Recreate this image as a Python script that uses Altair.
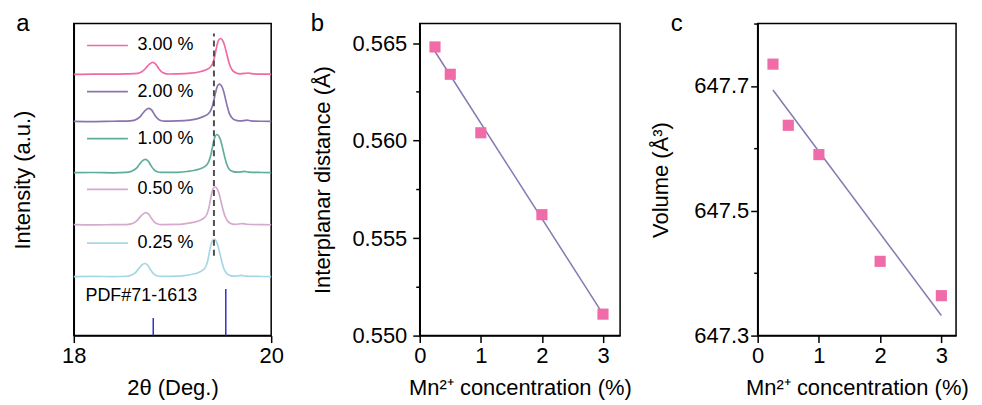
import altair as alt
import pandas as pd

FONT = "Liberation Sans"

# ---------------- panel a : XRD patterns ----------------
series = ["3.00 %", "2.00 %", "1.00 %", "0.50 %", "0.25 %"]
colors = ["#f06aa5", "#8a74b0", "#5fae9b", "#d4aacd", "#a6d7e6"]
offsets = [262.0, 214.7, 163.3, 111.0, 59.0]      # stacking offset of each pattern
legend_y = [291.0, 244.7, 197.5, 146.7, 92.7]

tt_300 = [18.00, 18.20, 18.40, 18.53, 18.65, 18.68, 18.71, 18.74, 18.77, 18.80, 18.83, 18.86, 18.89, 18.92, 18.96,
          19.05, 19.185, 19.265, 19.335, 19.385, 19.405, 19.425, 19.445, 19.465, 19.485, 19.505, 19.525, 19.545,
          19.565, 19.585, 19.61, 19.645, 19.685, 19.735, 19.765, 19.805, 19.90, 20.00]
I_300 = [0.0, 0.3, 0.2, 0.5, 1.1, 2.2, 4.2, 7.6, 10.6, 12.0, 10.3, 6.0, 2.6, 1.0, 0.4,
         0.5, 1.2, 2.4, 4.4, 7.5, 10.5, 17.0, 26.5, 33.8, 36.0, 34.5, 30.0, 22.5,
         14.5, 8.2, 3.8, 1.5, 0.6, 1.0, 1.4, 0.7, 0.3, 0.2]

tt_200 = [18.00, 18.20, 18.40, 18.53, 18.61, 18.64, 18.67, 18.70, 18.73, 18.76, 18.79, 18.82, 18.85, 18.88, 18.92,
          19.05, 19.175, 19.255, 19.325, 19.375, 19.395, 19.415, 19.435, 19.455, 19.475, 19.495, 19.515, 19.535,
          19.555, 19.575, 19.60, 19.635, 19.675, 19.725, 19.755, 19.795, 19.90, 20.00]
I_200 = [0.2, 0.0, 0.3, 0.4, 1.2, 2.5, 4.7, 8.4, 11.8, 13.3, 11.5, 6.6, 2.9, 1.1, 0.4,
         0.6, 1.5, 3.0, 5.5, 9.0, 13.0, 19.5, 28.5, 35.5, 37.6, 36.0, 31.3, 23.5,
         15.2, 8.5, 4.0, 1.5, 0.6, 1.0, 1.4, 0.7, 0.3, 0.2]

tt_100 = [18.00, 18.20, 18.40, 18.53, 18.575, 18.605, 18.635, 18.665, 18.695, 18.725, 18.755, 18.785, 18.815, 18.845,
          18.885, 19.05, 19.15, 19.23, 19.30, 19.35, 19.37, 19.39, 19.41, 19.43, 19.45, 19.47, 19.49, 19.51,
          19.53, 19.55, 19.575, 19.61, 19.65, 19.70, 19.73, 19.77, 19.90, 20.00]
I_100 = [0.1, 0.3, 0.0, 0.4, 1.2, 2.5, 4.7, 8.5, 11.9, 13.4, 11.6, 6.7, 2.9, 1.1,
         0.4, 0.5, 1.3, 2.6, 4.8, 8.2, 12.0, 18.3, 28.3, 36.0, 38.4, 36.8, 32.0, 24.0,
         15.5, 8.6, 3.5, 1.4, 0.6, 1.0, 1.4, 0.7, 0.3, 0.2]

tt_050 = [18.00, 18.20, 18.40, 18.53, 18.58, 18.61, 18.64, 18.67, 18.70, 18.73, 18.76, 18.79, 18.82, 18.85, 18.89,
          19.05, 19.13, 19.21, 19.28, 19.33, 19.35, 19.37, 19.39, 19.41, 19.43, 19.45, 19.47, 19.49,
          19.51, 19.53, 19.555, 19.59, 19.63, 19.68, 19.71, 19.75, 19.90, 20.00]
I_050 = [0.3, 0.1, 0.3, 0.4, 1.1, 2.3, 4.3, 7.8, 10.9, 12.3, 10.6, 6.1, 2.6, 1.0, 0.4,
         0.5, 1.3, 2.6, 4.7, 8.0, 11.0, 17.6, 28.2, 36.0, 38.3, 36.7, 32.0, 24.0,
         16.0, 9.2, 4.5, 1.5, 0.6, 1.0, 1.4, 0.7, 0.3, 0.2]

tt_025 = [18.00, 18.20, 18.40, 18.53, 18.57, 18.60, 18.63, 18.66, 18.69, 18.72, 18.75, 18.78, 18.81, 18.84, 18.88,
          19.05, 19.12, 19.20, 19.27, 19.32, 19.34, 19.36, 19.38, 19.40, 19.42, 19.44, 19.46, 19.48,
          19.50, 19.52, 19.545, 19.58, 19.62, 19.67, 19.70, 19.74, 19.90, 20.00]
I_025 = [0.2, 0.4, 0.1, 0.5, 1.2, 2.5, 4.7, 8.4, 11.8, 13.3, 11.5, 6.6, 2.9, 1.1, 0.4,
         0.6, 1.2, 2.5, 4.6, 7.8, 10.8, 17.3, 27.8, 35.4, 37.7, 36.2, 31.4, 23.6,
         15.0, 8.3, 3.8, 1.4, 0.6, 1.0, 1.4, 0.7, 0.3, 0.2]

two_theta = [tt_300, tt_200, tt_100, tt_050, tt_025]
intensity = [I_300, I_200, I_100, I_050, I_025]

dashed_x = 19.42
dashed_range = [80.0, 303.0]
pdf_pos = [18.805, 19.54]
pdf_height = [17.7, 46.7]
pdf_label = "PDF#71-1613"

# ---------------- panel b / c ----------------
conc = [0.25, 0.5, 1.0, 2.0, 3.0]
d_spacing = [0.5648, 0.5634, 0.5604, 0.5562, 0.5511]
volume = [647.735, 647.637, 647.590, 647.419, 647.364]

PINK = "#f06ca8"
LINE = "#8777b2"

# ---------------- build data ----------------
rows = []
for s, off, xs, ys in zip(series, offsets, two_theta, intensity):
    for x, y in zip(xs, ys):
        rows.append({"series": s, "tt": x, "I": y + off})
curves = pd.DataFrame(rows)

leg = pd.DataFrame({"series": series, "I": legend_y,
                    "tt": [18.134] * 5, "tt2": [18.548] * 5, "tx": [18.646] * 5})
dash_df = pd.DataFrame({"tt": [dashed_x], "I": [dashed_range[0]], "I2": [dashed_range[1]]})
pdf_df = pd.DataFrame({"tt": pdf_pos, "I": [0.0, 0.0], "I2": pdf_height})
pdf_txt = pd.DataFrame({"tt": [18.118], "I": [40.0], "t": [pdf_label]})

cs = alt.Scale(domain=series, range=colors)
xs_a = alt.Scale(domain=[18, 20], nice=False, zero=False)
ys_a = alt.Scale(domain=[0, 313], nice=False, zero=False)

def minor_axis(values, test, fmt, title, **kw):
    return alt.Axis(values=values, title=title, format=fmt,
                    labelExpr=f"({test}) ? datum.label : ''",
                    tickSize={"condition": {"test": test, "value": 7}, "value": 4},
                    labelFlush=False, labelOverlap=False,
                    **kw)

INT_TEST = "abs(datum.value - round(datum.value)) < 1e-6"

ax_a_x = minor_axis([18, 18.5, 19, 19.5, 20], INT_TEST, "d", "2θ (Deg.)",
                    labelPadding=3, titlePadding=11)
ax_a_y = alt.Axis(title="Intensity (a.u.)", labels=False, ticks=False, titlePadding=39)

X_a = alt.X("tt:Q", scale=xs_a, axis=ax_a_x)
Y_a = alt.Y("I:Q", scale=ys_a, axis=ax_a_y)

def panel_label(txt, dx):
    return alt.Chart(pd.DataFrame({"t": [txt]})).mark_text(
        font=FONT, fontSize=24, align="center", baseline="alphabetic", color="black"
    ).encode(x=alt.value(dx), y=alt.value(7), text="t:N")

a_curves = alt.Chart(curves).mark_line(strokeWidth=1.7, interpolate="monotone").encode(
    x=X_a, y=Y_a, color=alt.Color("series:N", scale=cs, legend=None), detail="series:N")
a_legline = alt.Chart(leg).mark_rule(strokeWidth=1.7).encode(
    x=X_a, x2="tt2:Q", y=Y_a, color=alt.Color("series:N", scale=cs, legend=None))
a_legtxt = alt.Chart(leg).mark_text(font=FONT, fontSize=18, align="left", baseline="middle",
                                    color="black").encode(
    x=alt.X("tx:Q", scale=xs_a, axis=ax_a_x), y=Y_a, text="series:N")
a_dash = alt.Chart(dash_df).mark_rule(strokeWidth=2, strokeDash=[6, 4], color="#505050").encode(
    x=X_a, y=Y_a, y2="I2:Q")
a_pdf = alt.Chart(pdf_df).mark_rule(strokeWidth=1.5, color="#3030d8").encode(
    x=X_a, y=Y_a, y2="I2:Q")
a_pdftxt = alt.Chart(pdf_txt).mark_text(font=FONT, fontSize=18, align="left", baseline="middle",
                                        color="black").encode(x=X_a, y=Y_a, text="t:N")

panel_a = alt.layer(a_curves, a_legline, a_legtxt, a_dash, a_pdf, a_pdftxt,
                    panel_label("a", -51)).properties(width=198, height=313)

# ---------------- panel b ----------------
df_b = pd.DataFrame({"conc": conc, "val": d_spacing})
xs_b = alt.Scale(domain=[0, 3.28], nice=False, zero=False)
ys_b = alt.Scale(domain=[0.550, 0.566], nice=False, zero=False)
ax_b_x = minor_axis([0, 0.5, 1, 1.5, 2, 2.5, 3], INT_TEST, "d", "Mn²⁺ concentration (%)",
                    labelPadding=3, titlePadding=11)
ax_b_y = minor_axis([0.550, 0.5525, 0.555, 0.5575, 0.560, 0.5625, 0.565],
                    "abs(datum.value*200 - round(datum.value*200)) < 1e-6", ".3f",
                    "Interplanar distance (Å)", labelPadding=6, titlePadding=17)
X_b = alt.X("conc:Q", scale=xs_b, axis=ax_b_x)
Y_b = alt.Y("val:Q", scale=ys_b, axis=ax_b_y)
b_fit = alt.Chart(df_b).transform_regression("conc", "val").mark_line(
    color=LINE, strokeWidth=1.5).encode(x=X_b, y=Y_b)
b_pts = alt.Chart(df_b).mark_square(size=125, color=PINK, opacity=1).encode(x=X_b, y=Y_b)
panel_b = alt.layer(b_fit, b_pts, panel_label("b", -102.6)).properties(width=201, height=313)

# ---------------- panel c ----------------
df_c = pd.DataFrame({"conc": conc, "val": volume})
xs_c = alt.Scale(domain=[0, 3.24], nice=False, zero=False)
ys_c = alt.Scale(domain=[647.3, 647.8], nice=False, zero=False)
ax_c_x = minor_axis([0, 0.5, 1, 1.5, 2, 2.5, 3], INT_TEST, "d", "Mn²⁺ concentration (%)",
                    labelPadding=3, titlePadding=11)
ax_c_y = minor_axis([647.3, 647.4, 647.5, 647.6, 647.7, 647.8],
                    "round(datum.value*10) % 2 == 1", ".1f",
                    "Volume (Å³)", labelPadding=2, titlePadding=21)
X_c = alt.X("conc:Q", scale=xs_c, axis=ax_c_x)
Y_c = alt.Y("val:Q", scale=ys_c, axis=ax_c_y)
c_fit = alt.Chart(df_c).transform_regression("conc", "val").mark_line(
    color=LINE, strokeWidth=1.5).encode(x=X_c, y=Y_c)
c_pts = alt.Chart(df_c).mark_square(size=125, color=PINK, opacity=1).encode(x=X_c, y=Y_c)
panel_c = alt.layer(c_fit, c_pts, panel_label("c", -81.3)).properties(width=199, height=313)

inner = alt.hconcat(panel_b, panel_c, spacing=138, bounds="flush")
chart = alt.hconcat(panel_a, inner, spacing=149, bounds="flush").properties(
    padding={"left": 3, "top": 2, "right": 5, "bottom": 0},
    background="white"
).configure_view(stroke="black", strokeWidth=1.5).configure_axis(
    grid=False, domainColor="black", domainWidth=1.5, tickColor="black", tickWidth=1.5,
    labelFont=FONT, labelFontSize=22, labelColor="black",
    titleFont=FONT, titleFontSize=22, titleFontWeight="normal", titleColor="black"
)

chart.save("out.html", embed_options={"renderer": "svg", "actions": False})
